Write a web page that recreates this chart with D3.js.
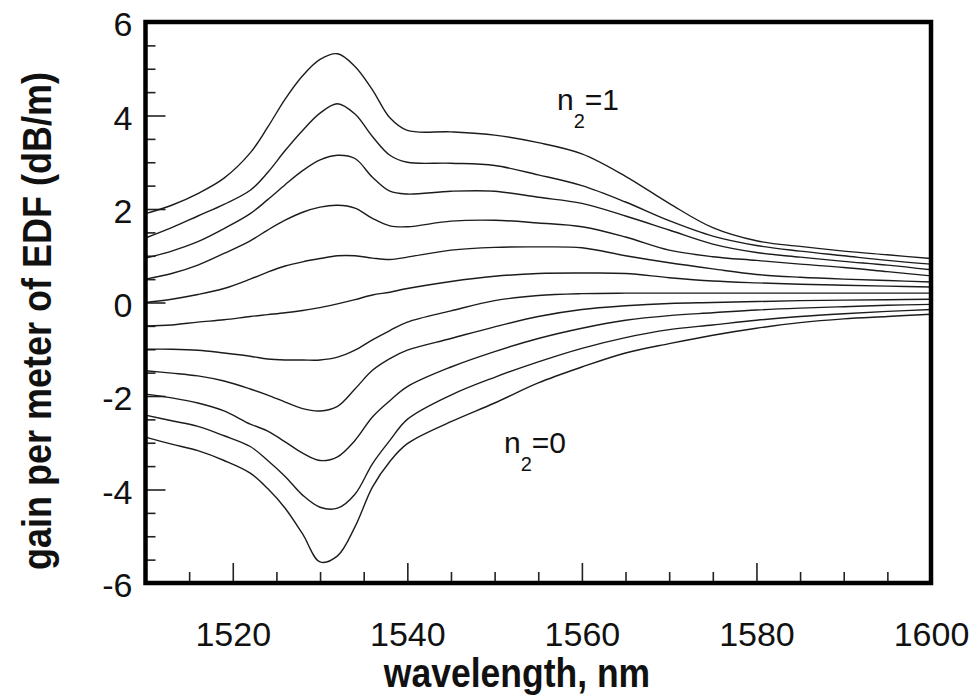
<!DOCTYPE html>
<html>
<head>
<meta charset="utf-8">
<script src="https://cdn.jsdelivr.net/npm/d3@7"></script>
<style>
  body { margin: 0; background: #fff; }
  svg { display: block; font-family: "Liberation Sans", Arial, Helvetica, sans-serif; }
</style>
</head>
<body>
<svg id="chart" width="977" height="696"></svg>
<script>
// wavelength grid (nm) shared by every curve
let wavelength = [1510, 1513, 1516, 1519, 1522, 1524, 1526, 1528, 1530, 1532, 1534, 1536, 1538,
                  1540, 1545, 1550, 1555, 1560, 1565, 1570, 1575, 1580, 1585, 1590, 1595, 1600];

// gain per meter of EDF (dB/m), one curve per upper level population n2 (0 .. 1, step 0.1)
let gain_n2_10 = [1.9, 2.08, 2.33, 2.66, 3.2, 3.75, 4.35, 4.85, 5.2, 5.32, 5.05, 4.55, 3.95,
                  3.68, 3.65, 3.58, 3.42, 3.18, 2.7, 2.12, 1.6, 1.32, 1.2, 1.1, 1.02, 0.94];
let gain_n2_09 = [1.38, 1.6, 1.85, 2.1, 2.4, 2.78, 3.25, 3.68, 4.05, 4.25, 4.03, 3.55, 3.15,
                  3.0, 2.98, 2.93, 2.73, 2.5, 2.15, 1.75, 1.42, 1.22, 1.1, 1.0, 0.9, 0.82];
let gain_n2_08 = [0.95, 1.1, 1.3, 1.58, 1.9, 2.2, 2.52, 2.82, 3.05, 3.15, 3.08, 2.68, 2.38,
                  2.32, 2.38, 2.38, 2.25, 2.12, 1.85, 1.55, 1.25, 1.07, 0.97, 0.88, 0.8, 0.7];
let gain_n2_07 = [0.5, 0.62, 0.8, 1.05, 1.32, 1.55, 1.76, 1.93, 2.04, 2.08, 2.02, 1.8, 1.64,
                  1.62, 1.74, 1.76, 1.7, 1.62, 1.4, 1.12, 0.98, 0.9, 0.82, 0.75, 0.66, 0.57];
let gain_n2_06 = [0.0, 0.07, 0.17, 0.3, 0.5, 0.65, 0.78, 0.87, 0.94, 1.0, 1.0, 0.95, 0.92,
                  0.97, 1.12, 1.18, 1.19, 1.17, 1.0, 0.85, 0.72, 0.6, 0.54, 0.5, 0.47, 0.44];
let gain_n2_05 = [-0.5, -0.48, -0.42, -0.37, -0.3, -0.26, -0.22, -0.17, -0.11, -0.03, 0.06, 0.16, 0.22,
                  0.3, 0.45, 0.56, 0.62, 0.63, 0.62, 0.53, 0.46, 0.42, 0.39, 0.37, 0.35, 0.33];
let gain_n2_04 = [-1.0, -1.0, -1.02, -1.08, -1.15, -1.21, -1.23, -1.23, -1.23, -1.17, -1.02, -0.8, -0.6,
                  -0.42, -0.18, 0.04, 0.15, 0.19, 0.2, 0.2, 0.2, 0.2, 0.2, 0.2, 0.2, 0.2];
let gain_n2_03 = [-1.46, -1.51, -1.57, -1.68, -1.85, -1.98, -2.13, -2.27, -2.32, -2.22, -1.85, -1.45, -1.2,
                  -1.02, -0.77, -0.52, -0.3, -0.15, -0.07, -0.02, 0.0, 0.02, 0.04, 0.05, 0.06, 0.07];
let gain_n2_02 = [-1.96, -2.04, -2.15, -2.32, -2.6, -2.75, -2.98, -3.22, -3.38, -3.3, -2.95, -2.45, -2.1,
                  -1.8, -1.38, -1.05, -0.77, -0.55, -0.38, -0.28, -0.22, -0.16, -0.12, -0.09, -0.06, -0.04];
let gain_n2_01 = [-2.41, -2.53, -2.65, -2.85, -3.08, -3.38, -3.72, -4.12, -4.38, -4.4, -4.1, -3.45, -2.95,
                  -2.5, -1.98, -1.6, -1.27, -0.98, -0.75, -0.58, -0.48, -0.38, -0.3, -0.24, -0.19, -0.15];
let gain_n2_00 = [-2.88, -3.03, -3.17, -3.38, -3.65, -3.98, -4.4, -4.95, -5.55, -5.42, -4.8, -3.95, -3.4,
                  -3.02, -2.55, -2.15, -1.72, -1.38, -1.08, -0.88, -0.7, -0.55, -0.43, -0.35, -0.3, -0.25];

let xTicks = [1520, 1540, 1560, 1580, 1600];
let xMinorTicks = [1515, 1525, 1530, 1535, 1545, 1550, 1555, 1565, 1570, 1575, 1585, 1590, 1595];
let yTicks = [-6, -4, -2, 0, 2, 4, 6];
let yMinorTicks = d3.range(-5.5, 6, 0.5).filter(function(v) { return v % 2 !== 0; });

let series = [gain_n2_10, gain_n2_09, gain_n2_08, gain_n2_07, gain_n2_06, gain_n2_05,
              gain_n2_04, gain_n2_03, gain_n2_02, gain_n2_01, gain_n2_00];

let svg = d3.select("#chart");
let margin = { top: 22, right: 46, bottom: 113, left: 145.5 };
let width = 977 - margin.left - margin.right;
let height = 696 - margin.top - margin.bottom;
let body = svg.append("g").attr("transform", `translate(${margin.left},${margin.top})`);

// scales
let xScale = d3.scaleLinear().domain([1510, 1600]).range([0, width]);
let yScale = d3.scaleLinear().domain([-6, 6]).range([height, 0]);

// axes: ticks point inward, minor ticks are shorter
let fmt = function(d) { return String(d); };
let xAxis = body.append("g")
    .attr("transform", `translate(0,${height})`)
    .call(d3.axisBottom(xScale).tickValues(xTicks).tickSize(-20).tickPadding(39).tickFormat(fmt));
body.append("g")
    .attr("transform", `translate(0,${height})`)
    .call(d3.axisBottom(xScale).tickValues(xMinorTicks).tickSize(-11).tickFormat(""));
let yAxis = body.append("g")
    .call(d3.axisLeft(yScale).tickValues(yTicks).tickSize(-20).tickPadding(13).tickFormat(fmt));
body.append("g")
    .call(d3.axisLeft(yScale).tickValues(yMinorTicks).tickSize(-10).tickFormat(""));

body.selectAll(".domain").remove();
body.selectAll(".tick line").attr("stroke", "#222").attr("stroke-width", 1.6);
body.selectAll(".tick text")
    .attr("fill", "#111")
    .style("font-size", "34px")
    .style("font-family", "\"Liberation Sans\", Arial, sans-serif");
yAxis.selectAll(".tick text").attr("dy", "0.4em");

// curves
let line = d3.line()
    .x(function(d, i) { return xScale(wavelength[i]); })
    .y(function(d) { return yScale(d); })
    .curve(d3.curveCatmullRom.alpha(0.5));

body.append("g")
    .selectAll("path")
    .data(series)
    .enter()
        .append("path")
        .attr("d", line)
        .attr("fill", "none")
        .attr("stroke", "#1c1c1c")
        .attr("stroke-width", 1.4);

// frame
body.append("rect")
    .attr("width", width)
    .attr("height", height)
    .attr("fill", "none")
    .attr("stroke", "#000")
    .attr("stroke-width", 4.5);

// curve labels
function label(x, y, value) {
    let t = svg.append("text")
        .attr("x", x)
        .attr("y", y)
        .style("font-size", "30px")
        .attr("fill", "#111");
    t.append("tspan").text("n");
    t.append("tspan").text("2").attr("dy", 18).style("font-size", "20px");
    t.append("tspan").text("=" + value).attr("dy", -18);
}
label(557, 110, "1");
label(504, 453, "0");

// axis titles (the scanned lettering is a little taller than wide)
svg.append("text")
    .text("wavelength, nm")
    .attr("transform", "translate(517,687) scale(1,1.15)")
    .attr("text-anchor", "middle")
    .style("font-size", "35.5px")
    .style("font-weight", "bold")
    .attr("fill", "#111");
svg.append("text")
    .text("gain per meter of EDF (dB/m)")
    .attr("transform", "translate(51,321) rotate(-90) scale(1,1.15)")
    .attr("text-anchor", "middle")
    .style("font-size", "36px")
    .style("font-weight", "bold")
    .attr("fill", "#111");
</script>
</body>
</html>
